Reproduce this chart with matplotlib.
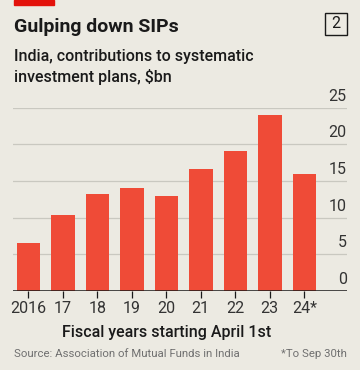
import matplotlib
matplotlib.use("Agg")
import matplotlib.pyplot as plt
from matplotlib.patches import Rectangle

# data
years = ["2016", "17", "18", "19", "20", "21", "22", "23", "24*"]
contributions = [6.5, 10.4, 13.2, 14.0, 13.0, 16.6, 19.1, 24.0, 16.0]
y_ticks = [0, 5, 10, 15, 20, 25]

BG = "#ECEAE2"
BAR = "#EF4B37"
RED = "#E3120B"
TXT = "#1a1a1a"

plt.rcParams['font.family'] = ['Roboto', 'DejaVu Sans']

fig = plt.figure(figsize=(3.6, 3.7), dpi=100, facecolor=BG)
ax = fig.add_axes([13.3 / 360, 1 - 291 / 370, (346.7 - 13.3) / 360, (291 - 107.7) / 370])
ax.set_facecolor(BG)

x = list(range(len(years)))
ax.bar(x, contributions, width=0.68, color=BAR, zorder=2)

ax.set_xlim(-0.435, 9.23)
ax.set_ylim(0, 25)

# gridlines with labels sitting on top, right aligned
for v in y_ticks:
    if v > 0:
        ax.axhline(v, color="#C9C8C0", lw=0.9, zorder=1)
    ax.text(1.0, v + 0.55, str(v), transform=ax.get_yaxis_transform(), ha="right", va="bottom",
            fontsize=11.5, color="#333333", clip_on=False)
ax.axhline(0, color=TXT, lw=1.1, zorder=3)

ax.set_yticks([])
ax.set_xticks(x)
ax.set_xticklabels(years, fontsize=11.5, color="#333333")
ax.tick_params(axis="x", length=5, width=0.9, color=TXT, pad=2)
for s in ax.spines.values():
    s.set_visible(False)

ax.text(4, -5.6, "Fiscal years starting April 1st", ha="center", va="center",
        fontsize=11.5, fontweight="medium", color=TXT, clip_on=False)

# header
fig.patches.append(Rectangle((13.5 / 360, 1 - 5 / 370), 40.5 / 360, 5 / 370, transform=fig.transFigure,
                             color=RED, zorder=5))
fig.text(14 / 360, 1 - 27 / 370, "Gulping down SIPs", ha="left", va="center",
         fontsize=14, fontweight="bold", color=TXT)
fig.text(14 / 360, 1 - 57 / 370, "India, contributions to systematic", ha="left", va="center",
         fontsize=11.5, fontweight="medium", color=TXT)
fig.text(14 / 360, 1 - 77 / 370, "investment plans, $bn", ha="left", va="center",
         fontsize=11.5, fontweight="medium", color=TXT)
fig.patches.append(Rectangle((324.5 / 360, 1 - 35 / 370), 22.5 / 360, 22 / 370, transform=fig.transFigure,
                             fill=False, edgecolor=TXT, lw=1.0))
fig.text(335.7 / 360, 1 - 24 / 370, "2", ha="center", va="center", fontsize=11.5, color=TXT)

# footer
fig.text(14 / 360, 1 - 354 / 370, "Source: Association of Mutual Funds in India", ha="left", va="center",
         fontsize=8.2, color="#707070")
fig.text(346.5 / 360, 1 - 354 / 370, "*To Sep 30th", ha="right", va="center",
         fontsize=8.2, color="#707070")

fig.savefig("out.png", dpi=100, facecolor=BG)
